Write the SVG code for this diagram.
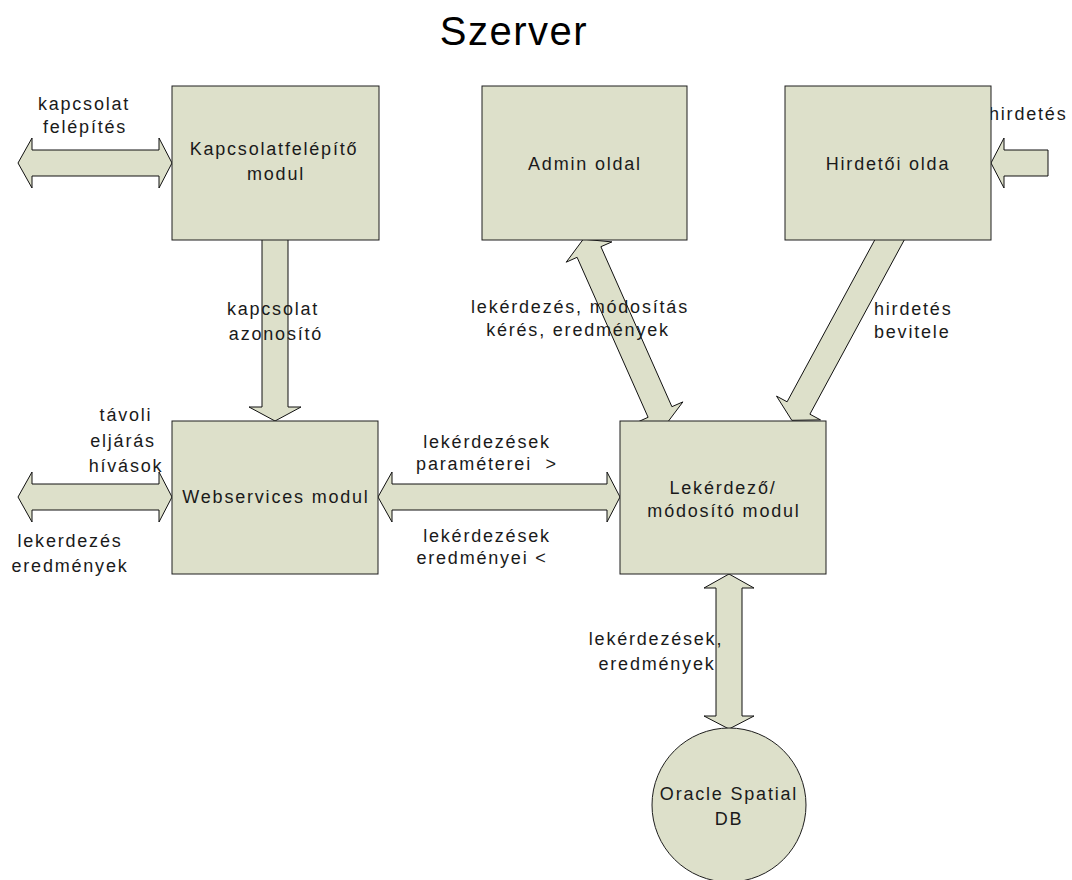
<svg xmlns="http://www.w3.org/2000/svg" width="1072" height="880" viewBox="0 0 1072 880">
<style>
  .shape { fill: #dde0ca; stroke: #1e1e1e; stroke-width: 1; }
  .arrow { fill: #dde0ca; stroke: #111; stroke-width: 1; stroke-linejoin: miter; }
  text { font-family: "Liberation Sans", Arial, sans-serif; font-size: 18px; fill: #1a1a1a; letter-spacing: 1.8px; }
  .mid { text-anchor: middle; }
  .title { font-size: 40px; letter-spacing: 1.5px; fill: #000; }
</style>
<rect width="1072" height="880" fill="#ffffff"/>
<text class="title mid" x="514" y="45">Szerver</text>

<g id="connectors">
  <!-- kapcsolat felépítés (left, top) -->
  <polygon class="arrow" points="18,163 32,138 32,150 159,150 159,138 172,163 159,188 159,176 32,176 32,188"/>
  <!-- Kapcsolatfelépítő -> Webservices -->
  <polygon class="arrow" points="262,238 288,238 288,407 301,407 275,421 249,407 262,407"/>
  <!-- távoli eljárás hívások (left, bottom) -->
  <polygon class="arrow" points="18,497 32,472 32,484 159,484 159,472 172,497 159,522 159,510 32,510 32,522"/>
  <!-- Webservices <-> Lekérdező -->
  <polygon class="arrow" points="378,497 392,472 392,484 607,484 607,472 620,497 607,522 607,510 392,510 392,522"/>
  <!-- hirdetés -> Hirdetői oldal -->
  <polygon class="arrow" points="991,163 1004,138 1004,150 1048,150 1048,176 1004,176 1004,188"/>
  <!-- Admin <-> Lekérdező -->
  <polygon class="arrow" points="583.3,239.2 611.9,241.9 600.9,246.7 671.9,406.7 682.9,401.9 665.7,424.8 637.2,422.2 648.1,417.3 577.1,257.3 566.2,262.2"/>
  <!-- Hirdetői -> Lekérdező -->
  <polygon class="arrow" points="905.1,238.4 809.9,414.2 820.5,419.9 791.8,420.3 776.5,396.1 787.1,401.8 882.3,226.0"/>
  <!-- Lekérdező <-> Oracle -->
  <polygon class="arrow" points="729,574 754,588 742,588 742,716 754,716 729,729 704,716 716,716 716,588 704,588"/>

  <!-- connector labels -->
  <text class="mid" x="84" y="110">kapcsolat</text>
  <text class="mid" x="85" y="133">felépítés</text>
  <text class="mid" x="273" y="315">kapcsolat</text>
  <text class="mid" x="276" y="340">azonosító</text>
  <text class="mid" x="580" y="313">lekérdezés, módosítás</text>
  <text class="mid" x="578" y="336">kérés, eredmények</text>
  <text x="874" y="315">hirdetés</text>
  <text x="874" y="338">bevitele</text>
  <text x="989" y="120">hirdetés</text>
  <text class="mid" x="126" y="421">távoli</text>
  <text class="mid" x="123" y="447">eljárás</text>
  <text class="mid" x="126" y="472">hívások</text>
  <text class="mid" x="70" y="547">lekerdezés</text>
  <text class="mid" x="70" y="572">eredmények</text>
  <text class="mid" x="487" y="448">lekérdezések</text>
  <text class="mid" x="487" y="470">paraméterei&#160; &gt;</text>
  <text class="mid" x="487" y="542">lekérdezések</text>
  <text class="mid" x="482" y="564">eredményei &lt;</text>
  <text class="mid" x="656" y="645">lekérdezések,</text>
  <text class="mid" x="657" y="670">eredmények</text>
</g>

<g id="node-kapcsolatfelepito">
  <rect class="shape" x="172" y="86" width="207" height="154"/>
  <text class="mid" x="274" y="155">Kapcsolatfelépítő</text>
  <text class="mid" x="276" y="180">modul</text>
</g>
<g id="node-admin">
  <rect class="shape" x="482" y="86" width="205" height="154"/>
  <text class="mid" x="585" y="170">Admin oldal</text>
</g>
<g id="node-hirdetoi">
  <rect class="shape" x="785" y="86" width="206" height="154"/>
  <text class="mid" x="888" y="170">Hirdetői olda</text>
</g>
<g id="node-webservices">
  <rect class="shape" x="172" y="421" width="206" height="153"/>
  <text class="mid" x="276" y="503">Webservices modul</text>
</g>
<g id="node-lekerdezo">
  <rect class="shape" x="620" y="421" width="206" height="153"/>
  <text class="mid" x="723" y="494">Lekérdező/</text>
  <text class="mid" x="724" y="517">módosító modul</text>
</g>
<g id="node-oracle">
  <circle class="shape" cx="729" cy="805" r="77"/>
  <text class="mid" x="729" y="800">Oracle Spatial</text>
  <text class="mid" x="729" y="825">DB</text>
</g>
</svg>
